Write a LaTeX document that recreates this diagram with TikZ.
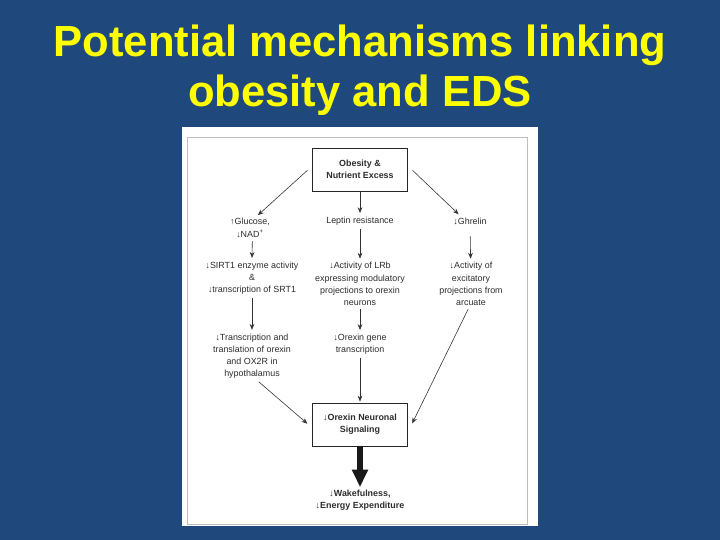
\documentclass[tikz,border=0pt]{standalone}
\usepackage{fontspec}
\setmainfont{Liberation Sans}
\usepackage{xcolor}
\usepackage{tikz}
\usetikzlibrary{arrows.meta, positioning}
\definecolor{slideblue}{RGB}{31, 73, 125}
\definecolor{titleyellow}{RGB}{255, 255, 0}
\definecolor{inktext}{RGB}{45, 45, 45}

\begin{document}
\begin{tikzpicture}[
    x=0.03cm, y=-0.03cm,
    every node/.style={font=\fontsize{7.6}{10.4}\selectfont, align=center, text=inktext, inner sep=2pt},
    title/.style={font=\fontsize{37.2}{42}\selectfont\bfseries, text=titleyellow, anchor=base},
    causebox/.style={rectangle, draw=black!85, line width=0.6pt, fill=white, minimum width=81.6pt, minimum height=36.6pt, font=\fontsize{7.6}{10.4}\selectfont\bfseries},
    arrow/.style={-{Stealth[length=5pt, width=4pt]}, line width=0.5pt, draw=black!80, shorten <=1pt, shorten >=1pt},
    bigarrow/.style={-{Triangle[length=15pt, width=13pt]}, line width=5pt, draw=black!90}
]

% Slide background and figure panel
\useasboundingbox (0,0) rectangle (720,540);
\fill[slideblue] (0,0) rectangle (720,540);
\fill[white] (182,127) rectangle (538,526);
\draw[black!25, line width=0.6pt] (187,137) rectangle (527,524);

% Title
\node[title] (title1) at (360,57) {Potential mechanisms linking};
\node[title] (title2) at (360,107) {obesity and EDS};

% Top
\node[causebox] (obesity) at (360,169.5) {Obesity \&\\Nutrient Excess};

% First row
\node (glucose) at (250,228) {↑Glucose,\\↓NAD\textsuperscript{+}};
\node (leptin) at (360,221) {Leptin resistance};
\node (ghrelin) at (470,221) {↓Ghrelin};

% Second row
\node (sirt) at (252,278) {↓SIRT1 enzyme activity\\\&\\↓transcription of SRT1};
\node (lrb) at (360,284) {↓Activity of LRb\\expressing modulatory\\projections to orexin\\neurons};
\node (arcuate) at (471,284) {↓Activity of\\excitatory\\projections from\\arcuate};

% Third row
\node (transl) at (252,356) {↓Transcription and\\translation of orexin\\and OX2R in\\hypothalamus};
\node (gene) at (360,344) {↓Orexin gene\\transcription};

% Bottom
\node[causebox] (orexin) at (360,424.5) {↓Orexin Neuronal\\Signaling};
\node[font=\fontsize{7.6}{10.4}\selectfont\bfseries] (wake) at (360,500) {↓Wakefulness,\\↓Energy Expenditure};

% Connections
\draw[arrow] ([xshift=-3pt]obesity.west) -- ([xshift=6pt]glucose.north);
\draw[arrow] (obesity) -- (leptin);
\draw[arrow] ([xshift=3pt]obesity.east) -- ([xshift=-9pt]ghrelin.north);
\draw[arrow] ([xshift=2pt]glucose.south) -- ([xshift=0pt]sirt.north);
\draw[arrow] (leptin) -- (lrb);
\draw[arrow, shorten <=8pt] (ghrelin) -- (arcuate);
\draw[arrow] (sirt) -- (transl);
\draw[arrow] (lrb) -- (gene);
\draw[arrow] ([xshift=5pt]transl.south) -- ([xshift=-3pt]orexin.west);
\draw[arrow] (gene) -- (orexin);
\draw[arrow] ([xshift=-2pt]arcuate.south) -- ([xshift=3pt]orexin.east);
\draw[bigarrow] (orexin) -- (wake);

\end{tikzpicture}
\end{document}
